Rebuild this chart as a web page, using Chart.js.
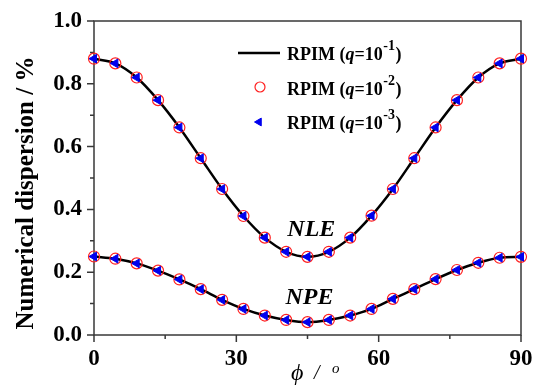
<!DOCTYPE html>
<html>
<head>
<meta charset="utf-8">
<script src="https://cdn.jsdelivr.net/npm/chart.js@4/dist/chart.umd.min.js"></script>
<style>
  html, body { margin: 0; padding: 0; background: #fff; }
</style>
</head>
<body>
<canvas id="dispChart" width="536" height="385"></canvas>
<script>
// ── data ──
const phi = [0, 4.5, 9, 13.5, 18, 22.5, 27, 31.5, 36, 40.5, 45, 49.5, 54, 58.5, 63, 67.5, 72, 76.5, 81, 85.5, 90];
const nle = [0.880, 0.865, 0.820, 0.748, 0.661, 0.563, 0.465, 0.379, 0.310, 0.265, 0.249, 0.265, 0.310, 0.380, 0.465, 0.563, 0.661, 0.748, 0.820, 0.865, 0.880];
const npe = [0.250, 0.243, 0.228, 0.205, 0.177, 0.146, 0.112, 0.083, 0.062, 0.048, 0.041, 0.048, 0.062, 0.083, 0.115, 0.146, 0.178, 0.207, 0.230, 0.246, 0.249];
const xTicks = [0, 30, 60, 90];
const xMinor = [15, 45, 75];
const yTicks = [0, 0.2, 0.4, 0.6, 0.8, 1.0];
const yMinor = [0.1, 0.3, 0.5, 0.7, 0.9];
const qExp = ['-1', '-2', '-3'];

const SERIF = '"Liberation Serif", "Times New Roman", serif';
const legendBase = [60, 95, 129];
const pts = ys => phi.map((x, i) => ({ x, y: ys[i] }));

function lineSet(ys) {
  return { data: pts(ys), borderColor: '#000', borderWidth: 2.5, pointRadius: 0,
           cubicInterpolationMode: 'monotone', fill: false, order: 3, clip: false };
}
function circleSet(ys) {
  return { data: pts(ys), showLine: false, pointStyle: 'circle', pointRadius: 5.5,
           pointBorderColor: '#ff2020', pointBackgroundColor: 'rgba(0,0,0,0)', pointBorderWidth: 1.2,
           order: 2, clip: false };
}
function triSet(ys) {
  return { data: pts(ys), showLine: false, pointStyle: 'triangle', pointRotation: -90, pointRadius: 5,
           pointBorderColor: '#0000ee', pointBackgroundColor: '#0000ee', pointBorderWidth: 1,
           order: 1, clip: false };
}

function txt(ctx, s, x, y, font) {
  ctx.font = font + ' ' + SERIF;
  ctx.fillText(s, x, y);
  return x + ctx.measureText(s).width;
}

const frame = {
  id: 'frame',
  beforeDatasetsDraw(chart) {
    const { ctx, chartArea: a, scales: { x, y } } = chart;
    ctx.save();
    ctx.strokeStyle = '#383838';
    ctx.lineWidth = 1.5;
    ctx.strokeRect(a.left, a.top, a.right - a.left, a.bottom - a.top);
    ctx.beginPath();
    xTicks.forEach(v => { const p = x.getPixelForValue(v); ctx.moveTo(p, a.bottom); ctx.lineTo(p, a.bottom + 7); });
    xMinor.forEach(v => { const p = x.getPixelForValue(v); ctx.moveTo(p, a.bottom); ctx.lineTo(p, a.bottom + 4); });
    yTicks.forEach(v => { const p = y.getPixelForValue(v); ctx.moveTo(a.left, p); ctx.lineTo(a.left - 7, p); });
    yMinor.forEach(v => { const p = y.getPixelForValue(v); ctx.moveTo(a.left, p); ctx.lineTo(a.left - 4, p); });
    ctx.stroke();
    ctx.restore();
  },
  afterDraw(chart) {
    const { ctx, scales: { x, y } } = chart;
    ctx.save();
    ctx.fillStyle = '#000';

    // curve names
    ctx.textAlign = 'center';
    ctx.textBaseline = 'middle';
    ctx.font = 'italic bold 24px ' + SERIF;
    ctx.fillText('NLE', x.getPixelForValue(45.8), y.getPixelForValue(0.334));
    ctx.fillText('NPE', x.getPixelForValue(45.4), y.getPixelForValue(0.118));

    // y title
    ctx.save();
    ctx.translate(33, 193);
    ctx.rotate(-Math.PI / 2);
    ctx.textAlign = 'center';
    ctx.textBaseline = 'alphabetic';
    ctx.font = 'bold 25px ' + SERIF;
    ctx.fillText('Numerical dispersion / %', 0, 0);
    ctx.restore();

    // x title
    ctx.textAlign = 'left';
    ctx.textBaseline = 'alphabetic';
    txt(ctx, 'ϕ', 291, 380, 'italic 24px');
    txt(ctx, '/', 314, 379, 'italic 20px');
    txt(ctx, 'o', 332, 373, 'italic 15px');

    // legend
    ctx.strokeStyle = '#000';
    ctx.lineWidth = 2.5;
    ctx.beginPath(); ctx.moveTo(238, 53); ctx.lineTo(280, 53); ctx.stroke();
    ctx.fillStyle = 'rgba(0,0,0,0)';
    ctx.strokeStyle = '#ff2020';
    ctx.lineWidth = 1.2;
    Chart.helpers.drawPoint(ctx, { pointStyle: 'circle', radius: 5, borderWidth: 1.2 }, 260, 87);
    ctx.fillStyle = '#0000ee';
    ctx.strokeStyle = '#0000ee';
    ctx.lineWidth = 1;
    Chart.helpers.drawPoint(ctx, { pointStyle: 'triangle', radius: 4.5, rotation: -90, borderWidth: 1 }, 259, 122);
    ctx.fillStyle = '#000';
    legendBase.forEach((base, i) => {
      let cx = 287;
      cx = txt(ctx, 'RPIM (', cx, base, 'bold 18px');
      cx = txt(ctx, 'q', cx, base, 'italic bold 18px');
      cx = txt(ctx, '=10', cx, base, 'bold 18px');
      cx = txt(ctx, qExp[i], cx + 0.5, base - 10, 'bold 14px');
      txt(ctx, ')', cx + 0.5, base, 'bold 18px');
    });
    ctx.restore();
  }
};

new Chart(document.getElementById('dispChart'), {
  type: 'line',
  data: {
    datasets: [
      lineSet(nle), lineSet(npe),
      circleSet(nle), circleSet(npe),
      triSet(nle), triSet(npe)
    ]
  },
  options: {
    responsive: false,
    animation: false,
    layout: { padding: { top: 21, right: 15, left: 0, bottom: 0 } },
    plugins: { legend: { display: false }, tooltip: { enabled: false } },
    scales: {
      x: {
        type: 'linear', min: 0, max: 90,
        grid: { display: false, drawTicks: false },
        border: { display: false },
        afterBuildTicks: s => { s.ticks = xTicks.map(v => ({ value: v })); },
        afterFit: s => { s.height = 50; s.paddingLeft = 0; s.paddingRight = 0; },
        ticks: { color: '#000', padding: 10, maxRotation: 0, font: { family: SERIF, size: 23, weight: 'bold' } }
      },
      y: {
        min: 0, max: 1,
        grid: { display: false, drawTicks: false },
        border: { display: false },
        afterBuildTicks: s => { s.ticks = yTicks.map(v => ({ value: v })); },
        afterFit: s => { s.width = 94; s.paddingTop = 0; s.paddingBottom = 0; },
        ticks: { color: '#000', padding: 12, callback: v => v.toFixed(1), font: { family: SERIF, size: 23, weight: 'bold' } }
      }
    }
  },
  plugins: [frame]
});
</script>
</body>
</html>
